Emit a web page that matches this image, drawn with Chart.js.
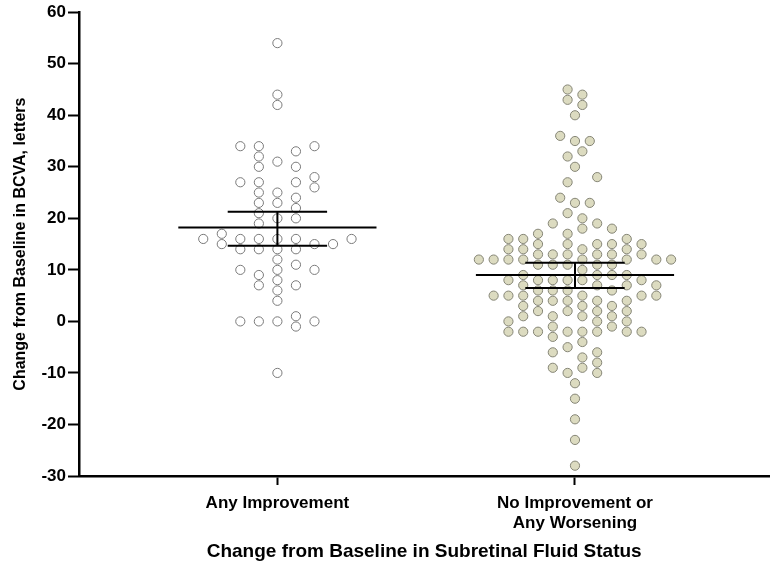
<!DOCTYPE html>
<html>
<head>
<meta charset="utf-8">
<script src="https://cdn.jsdelivr.net/npm/chart.js@4.4.1/dist/chart.umd.min.js"></script>
<style>
  html, body { margin: 0; padding: 0; background: #fff; }
  #wrap { width: 775px; height: 566px; }
</style>
</head>
<body>
<div id="wrap"><canvas id="grafico"></canvas></div>
<script>
// categories on the x axis
const categorias = ['Any Improvement', ['No Improvement or', 'Any Worsening']];

// Any Improvement: values (letters) and the swarm column each point sits in
const melhoraValores = [54, 44, 42, 34, 34, 34, 33, 32, 31, 30, 30, 28, 27, 27, 27, 26, 25, 25, 24, 23, 23, 22, 21, 20, 20, 19,
  17, 16, 16, 16, 16, 16, 16, 15, 15, 15, 14, 14, 14, 14, 12, 11, 10, 10, 10, 9, 8, 7, 7, 6, 4, 1, 0, 0, 0, 0, -1, -10];
const melhoraColunas = [0, 0, 0, -2, -1, 2, 1, -1, 0, -1, 1, 2, -2, -1, 1, 2, -1, 0, 1, -1, 0, 1, -1, 0, 1, -1,
  -3, -4, -2, -1, 0, 1, 4, -3, 2, 3, -2, -1, 0, 1, 0, 1, -2, 0, 2, -1, 0, -1, 1, 0, 0, 1, -2, -1, 0, 2, 1, 0];

// No Improvement or Any Worsening
const pioraValores = [
  12,
  12, 5,
  16, 14, 12, 8, 5, 0, -2,
  16, 14, 12, 9, 7, 5, 3, 1, -2,
  17, 15, 13, 11, 8, 6, 4, 2, -2,
  19, 13, 11, 8, 6, 4, 1, -1, -3, -6, -9,
  36, 24,
  45, 43, 32, 27, 21, 17, 15, 13, 11, 8, 6, 4, 2, -2, -5, -10,
  40, 35, 30, 23, -12, -15, -19, -23, -28,
  44, 42, 33, 20, 18, 14, 12, 10, 8, 5, 3, 1, -2, -4, -7, -9,
  35, 23,
  28, 19, 15, 13, 11, 9, 7, 4, 2, 0, -2, -6, -8, -10,
  18, 15, 13, 11, 9, 6, 3, 1, -1,
  16, 14, 12, 9, 7, 4, 2, 0, -2,
  15, 13, 8, 5, -2,
  12, 7, 5,
  12
];
const pioraColunas = [
  -6.5,
  -5.5, -5.5,
  -4.5, -4.5, -4.5, -4.5, -4.5, -4.5, -4.5,
  -3.5, -3.5, -3.5, -3.5, -3.5, -3.5, -3.5, -3.5, -3.5,
  -2.5, -2.5, -2.5, -2.5, -2.5, -2.5, -2.5, -2.5, -2.5,
  -1.5, -1.5, -1.5, -1.5, -1.5, -1.5, -1.5, -1.5, -1.5, -1.5, -1.5,
  -1, -1,
  -0.5, -0.5, -0.5, -0.5, -0.5, -0.5, -0.5, -0.5, -0.5, -0.5, -0.5, -0.5, -0.5, -0.5, -0.5, -0.5,
  0, 0, 0, 0, 0, 0, 0, 0, 0,
  0.5, 0.5, 0.5, 0.5, 0.5, 0.5, 0.5, 0.5, 0.5, 0.5, 0.5, 0.5, 0.5, 0.5, 0.5, 0.5,
  1, 1,
  1.5, 1.5, 1.5, 1.5, 1.5, 1.5, 1.5, 1.5, 1.5, 1.5, 1.5, 1.5, 1.5, 1.5,
  2.5, 2.5, 2.5, 2.5, 2.5, 2.5, 2.5, 2.5, 2.5,
  3.5, 3.5, 3.5, 3.5, 3.5, 3.5, 3.5, 3.5, 3.5,
  4.5, 4.5, 4.5, 4.5, 4.5,
  5.5, 5.5, 5.5,
  6.5
];

// mean and 95% CI per group
const medias = [18.2, 9.0];
const icInferior = [14.7, 6.5];
const icSuperior = [21.3, 11.4];

const yTicks = [-30, -20, -10, 0, 10, 20, 30, 40, 50, 60];

// swarm column width per group, in category units
const larguraColuna = [0.0623, 0.0497];

function pontos(valores, colunas, g) {
  return valores.map((v, i) => ({ x: g + 1 + colunas[i] * larguraColuna[g], y: v }));
}

function barras(g) {
  const c = g + 1;
  return [
    { x: c - 0.333, y: medias[g] }, { x: c + 0.333, y: medias[g] }, { x: c, y: null },
    { x: c - 0.167, y: icSuperior[g] }, { x: c + 0.167, y: icSuperior[g] }, { x: c, y: null },
    { x: c - 0.167, y: icInferior[g] }, { x: c + 0.167, y: icInferior[g] }, { x: c, y: null },
    { x: c, y: icInferior[g] }, { x: c, y: icSuperior[g] }
  ];
}

const familia = "'Liberation Sans', Arial, sans-serif";
const fonteTick = { family: familia, weight: 'bold', size: 17 };
const fonteTituloX = { family: familia, weight: 'bold', size: 19 };
const fonteTituloY = { family: familia, weight: 'bold', size: 16 };

const ctx = document.getElementById('grafico').getContext('2d');
const grafico = new Chart(ctx, {
  type: 'scatter',
  data: {
    datasets: [
      {
        label: 'Any Improvement',
        data: pontos(melhoraValores, melhoraColunas, 0),
        backgroundColor: '#ffffff',
        borderColor: '#7a7a7a',
        borderWidth: 1,
        pointRadius: 4.6,
        order: 2
      },
      {
        label: 'No Improvement or Any Worsening',
        data: pontos(pioraValores, pioraColunas, 1),
        backgroundColor: '#dcdbc0',
        borderColor: '#858576',
        borderWidth: 1,
        pointRadius: 4.6,
        order: 2
      },
      {
        type: 'line',
        data: barras(0),
        borderColor: '#000',
        borderWidth: 2,
        pointRadius: 0,
        spanGaps: false,
        order: 0
      },
      {
        type: 'line',
        data: barras(1),
        borderColor: '#000',
        borderWidth: 2,
        pointRadius: 0,
        spanGaps: false,
        order: 0
      }
    ]
  },
  options: {
    animation: false,
    responsive: true,
    maintainAspectRatio: false,
    layout: { padding: { top: 12, right: 0, left: 0, bottom: 0 } },
    plugins: { legend: { display: false }, tooltip: { enabled: false } },
    scales: {
      x: {
        type: 'linear',
        min: 0.3333,
        max: 2.6533,
        afterBuildTicks: s => { s.ticks = [{ value: 1 }, { value: 2 }]; },
        afterFit: s => { s.height = 90; },
        ticks: {
          color: '#000',
          font: fonteTick,
          padding: 8,
          maxRotation: 0,
          callback: v => categorias[Math.round(v) - 1]
        },
        grid: { drawOnChartArea: false, tickLength: 9, tickWidth: 2, tickColor: '#000' },
        border: { color: '#000', width: 2.5 },
        title: {
          display: true,
          text: 'Change from Baseline in Subretinal Fluid Status',
          color: '#000',
          font: fonteTituloX,
          padding: { top: 0, bottom: 3 }
        }
      },
      y: {
        min: -30,
        max: 60,
        afterBuildTicks: s => { s.ticks = yTicks.map(v => ({ value: v })); },
        afterFit: s => { s.width = 79; },
        ticks: { color: '#000', font: fonteTick, padding: 2 },
        grid: { drawOnChartArea: false, tickLength: 11, tickWidth: 2, tickColor: '#000' },
        border: { color: '#000', width: 2.5 },
        title: {
          display: true,
          text: 'Change from Baseline in BCVA, letters',
          color: '#000',
          font: fonteTituloY,
          padding: { top: 11, bottom: 0 }
        }
      }
    }
  }
});
</script>
</body>
</html>
